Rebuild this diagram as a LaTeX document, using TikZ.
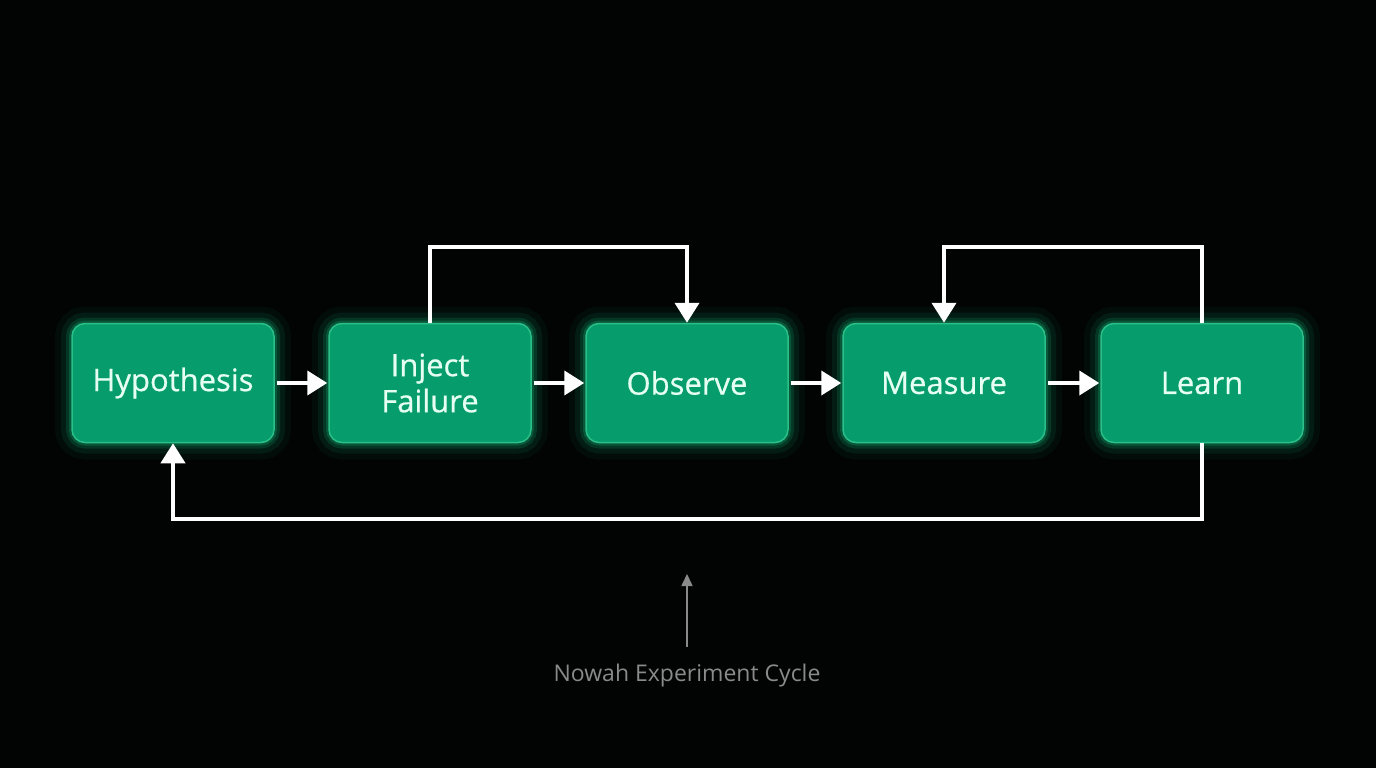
\documentclass[tikz,border=0pt]{standalone}
\usepackage{fontspec}
\setmainfont{Open Sans}
\usepackage{xcolor}
\usepackage{tikz}
\usetikzlibrary{arrows.meta}
\definecolor{bgblack}{HTML}{020303}
\definecolor{stepgreen}{HTML}{079C6C}
\definecolor{edgegreen}{HTML}{2BBF89}
\definecolor{glowgreen}{HTML}{14D98F}
\definecolor{textmint}{HTML}{E6FFF3}
\definecolor{notegray}{HTML}{8A8A8A}
\tikzset{stepbox/.style={rounded corners=13pt,fill=stepgreen,draw=edgegreen,line width=1.5pt,
  minimum width=202pt,minimum height=119pt,align=center,text=textmint,
  font=\fontsize{31}{36}\selectfont\addfontfeature{FakeBold=0.6},
  preaction={draw=glowgreen,line width=34pt,opacity=.05},
  preaction={draw=glowgreen,line width=22pt,opacity=.08},
  preaction={draw=glowgreen,line width=12pt,opacity=.14},
  preaction={draw=glowgreen,line width=6pt,opacity=.2}},
flow/.style={-{Triangle[length=20pt,width=24pt]},line width=4pt,white},
note/.style={-{Triangle[length=12pt,width=11pt]},line width=1.6pt,notegray}}

\begin{document}
\begin{tikzpicture}[x=1pt,y=-1pt]
\fill[bgblack] (0,0) rectangle (1376,768);
\useasboundingbox (0,0) rectangle (1376,768);
\node[stepbox] (hyp) at (173,383) {Hypothesis};
\node[stepbox] (inject) at (430,383) {Inject\\Failure};
\node[stepbox] (observe) at (687,383) {Observe};
\node[stepbox] (measure) at (944,383) {Measure};
\node[stepbox] (learn) at (1202,383) {Learn};
\foreach \a/\b in {hyp/inject,inject/observe,observe/measure,measure/learn}
 \draw[flow] ([xshift=2pt]\a.east)--([xshift=-1pt]\b.west);
\draw[flow] (inject.north) |- (687,247) -- (observe.north);
\draw[flow] (learn.north) |- (944,247) -- (measure.north);
\draw[flow] (learn.south) |- (173,519) -- (hyp.south);
\node[text=notegray,font=\fontsize{23}{27}\selectfont] (caption) at (687,676) {Nowah Experiment Cycle};
\coordinate (notetip) at (687,574);
\draw[note] ([yshift=14pt]caption.north) -- (notetip);
\end{tikzpicture}
\end{document}
